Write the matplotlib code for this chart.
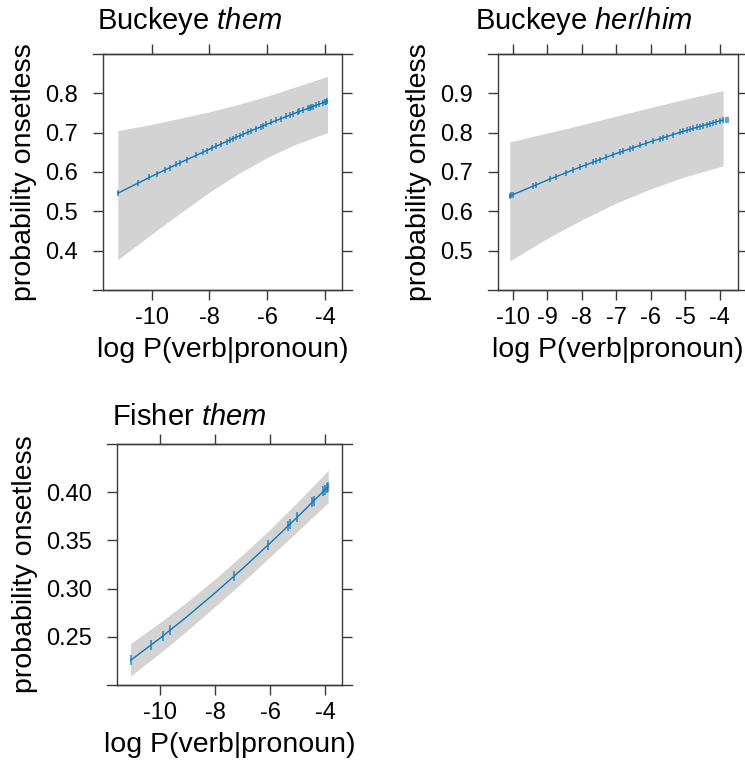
import numpy as np
import matplotlib
matplotlib.use("Agg")
import matplotlib.pyplot as plt

plt.rcParams['font.family'] = ['Liberation Sans', 'DejaVu Sans']
plt.rcParams['mathtext.fontset'] = 'custom'
plt.rcParams['mathtext.rm'] = 'Liberation Sans'
plt.rcParams['mathtext.it'] = 'Liberation Sans:italic'
plt.rcParams['axes.unicode_minus'] = False

# Buckeye "them": fitted curve and confidence band
bt_x = [-11.17, -10.0, -9.0, -8.0, -7.0, -6.0, -5.0, -4.0, -3.92]
bt_fit = [0.546, 0.589, 0.624, 0.658, 0.691, 0.722, 0.751, 0.778, 0.780]
bt_lo = [0.377, 0.442, 0.496, 0.549, 0.596, 0.637, 0.671, 0.698, 0.699]
bt_hi = [0.705, 0.721, 0.737, 0.753, 0.772, 0.793, 0.817, 0.841, 0.843]
bt_obs = [-11.17, -10.46, -10.08, -9.83, -9.54, -9.37, -9.14, -9.02, -8.79, -8.45,
          -8.22, -8.10, -7.93, -7.76, -7.59, -7.41, -7.30, -7.18, -7.07, -6.95,
          -6.84, -6.67, -6.55, -6.38, -6.21, -6.15, -6.03, -5.86, -5.69, -5.52,
          -5.34, -5.23, -5.11, -4.94, -4.89, -4.77, -4.60, -4.54, -4.48, -4.43,
          -4.31, -4.20, -4.08, -4.02, -3.97, -3.93]

# Buckeye "her/him"
bh_x = [-10.08, -10.0, -9.0, -8.0, -7.0, -6.0, -5.0, -4.0, -3.9]
bh_fit = [0.639, 0.642, 0.679, 0.714, 0.747, 0.777, 0.805, 0.830, 0.832]
bh_lo = [0.474, 0.478, 0.531, 0.578, 0.621, 0.657, 0.688, 0.713, 0.716]
bh_hi = [0.777, 0.778, 0.799, 0.820, 0.842, 0.864, 0.885, 0.905, 0.907]
bh_obs = [-10.08, -10.03, -9.98, -9.40, -9.31, -8.92, -8.73, -8.44, -8.24, -8.05,
          -7.86, -7.67, -7.57, -7.47, -7.28, -7.09, -6.89, -6.80, -6.60, -6.51,
          -6.31, -6.12, -5.93, -5.74, -5.64, -5.54, -5.35, -5.16, -5.06, -4.96,
          -4.87, -4.77, -4.67, -4.58, -4.48, -4.38, -4.29, -4.19, -4.10, -4.00,
          -3.90, -3.81, -3.76]

# Fisher "them"
ft_x = [-11.06, -10.0, -9.0, -8.0, -7.0, -6.0, -5.0, -4.0, -3.9]
ft_fit = [0.2256, 0.2483, 0.2713, 0.2955, 0.3208, 0.3473, 0.3747, 0.4030, 0.4059]
ft_lo = [0.2094, 0.2329, 0.2566, 0.2813, 0.3068, 0.3331, 0.3596, 0.3865, 0.3889]
ft_hi = [0.2429, 0.2647, 0.2866, 0.3100, 0.3351, 0.3617, 0.3901, 0.4197, 0.4229]
ft_obs = [-11.06, -10.33, -9.90, -9.64, -7.32, -6.07, -5.35, -5.29, -5.02, -4.47,
          -4.42, -4.08, -4.02, -3.94, -3.90]

BLUE = '#0a78bd'
BAND = '#d3d3d3'
AXC = '#3a3a3a'
W, H = 745, 772

fig = plt.figure(figsize=(W / 100, H / 100), dpi=100)


def panel(rect, x, fit, lo, hi, obs, xlim, ylim, xticks, yticks, yfmt, msize):
    l, t, r, b = rect
    ax = fig.add_axes([l / W, 1 - b / H, (r - l) / W, (b - t) / H])
    ax.fill_between(x, lo, hi, color=BAND, lw=0)
    ax.plot(x, fit, color=BLUE, lw=1.0)
    ax.plot(obs, np.interp(obs, x, fit), ls='none', marker='|', ms=msize,
            mew=1.1, color=BLUE, alpha=0.85)
    ax.set_xlim(xlim)
    ax.set_ylim(ylim)
    ax.set_xticks(xticks)
    ax.set_yticks(yticks)
    ax.set_yticklabels([yfmt.format(v) for v in yticks])
    ax.tick_params(direction='out', length=7, width=1, color=AXC,
                   top=True, right=True, labelsize=17, pad=5)
    ax.tick_params(axis='y', pad=11)
    for s in ax.spines.values():
        s.set_color(AXC)
        s.set_linewidth(1)
    # lattice-style top/bottom lines run past the side borders
    ext = 10 / (r - l)
    for yy in (0, 1):
        ax.plot([-ext, 1 + ext], [yy, yy], transform=ax.transAxes,
                color=AXC, lw=1, clip_on=False)
    ax.set_xlabel('log P(verb|pronoun)', fontsize=20.5, labelpad=6)
    ax.set_ylabel('probability onsetless', fontsize=20.5, labelpad=6)
    return ax


panel((103, 54, 342, 290), bt_x, bt_fit, bt_lo, bt_hi, bt_obs,
      (-11.68, -3.42), (0.3, 0.9), [-10, -8, -6, -4],
      [0.4, 0.5, 0.6, 0.7, 0.8], '{:.1f}', 5)
panel((498, 54, 738, 290), bh_x, bh_fit, bh_lo, bh_hi, bh_obs,
      (-10.42, -3.47), (0.4, 1.0), [-10, -9, -8, -7, -6, -5, -4],
      [0.5, 0.6, 0.7, 0.8, 0.9], '{:.1f}', 5)
panel((117, 444, 342, 685), ft_x, ft_fit, ft_lo, ft_hi, ft_obs,
      (-11.55, -3.40), (0.2, 0.45), [-10, -8, -6, -4],
      [0.25, 0.30, 0.35, 0.40], '{:.2f}', 7)

fig.text(97 / W, 1 - 29 / H, r'Buckeye $\mathit{them}$', fontsize=21,
         ha='left', va='baseline')
fig.text(475 / W, 1 - 29 / H, r'Buckeye $\mathit{her/him}$', fontsize=21,
         ha='left', va='baseline')
fig.text(112 / W, 1 - 425 / H, r'Fisher $\mathit{them}$', fontsize=21,
         ha='left', va='baseline')

fig.savefig('out.png', dpi=100)
